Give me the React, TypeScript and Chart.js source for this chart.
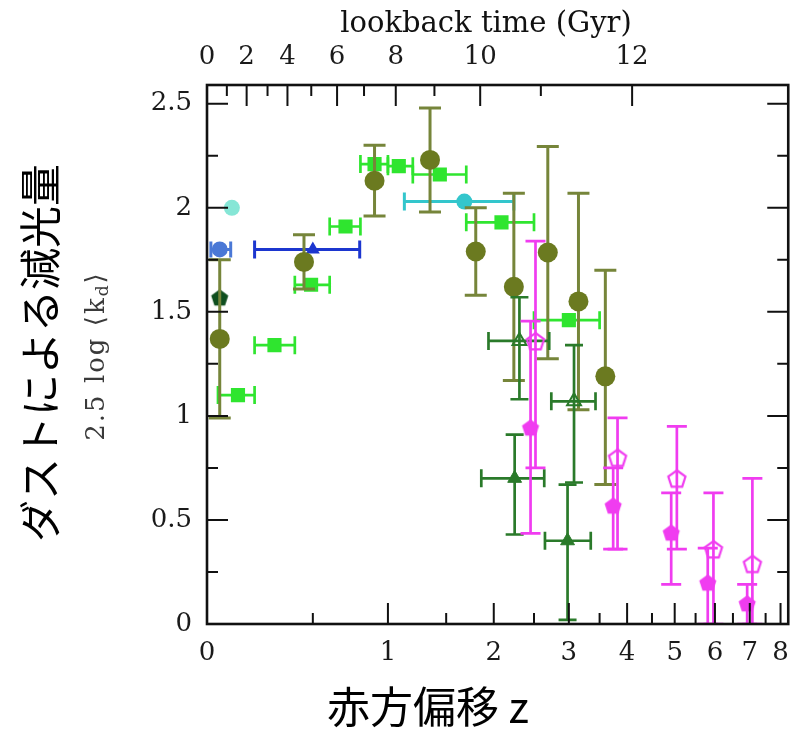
import React, { useEffect, useRef } from 'react';
import { Chart, registerables } from 'chart.js';

Chart.register(...registerables);

// ---------- axes / ticks ----------
const X_MAX_1PZ = 9.27; // right edge of plot in (1+z)
const Y_MAX = 2.59;
const Z_TICKS = [0, 1, 2, 3, 4, 5, 6, 7, 8];
const Z_MINOR = [0.5, 1.5, 2.5, 3.5, 4.5, 5.5, 6.5, 7.5];
const Y_TICKS = [0, 0.5, 1, 1.5, 2, 2.5];
const Y_MINOR = [0.25, 0.75, 1.25, 1.75, 2.25];
const LOOKBACK_LABELS = ['0', '2', '4', '6', '8', '10', '12'];
const LOOKBACK_Z = [0, 0.164, 0.361, 0.646, 1.061, 1.848, 4.097];
const LOOKBACK_MINOR_Z = [0.079, 0.261, 0.491, 0.825, 1.39, 2.593];

// ---------- data ----------
// olive filled circles
const OLIVE_Z = [0.05, 0.45, 0.9, 1.35, 1.8, 2.24, 2.69, 3.15, 3.6];
const OLIVE_V = [1.37, 1.74, 2.13, 2.23, 1.79, 1.62, 1.785, 1.55, 1.19];
const OLIVE_EUP = [0.38, 0.13, 0.17, 0.25, 0.21, 0.45, 0.51, 0.52, 0.51];
const OLIVE_EDN = [0.38, 0.13, 0.17, 0.25, 0.21, 0.45, 0.51, 0.52, 0.52];

// bright green squares (redshift bins)
const LIME_Z = [0.126, 0.295, 0.49, 0.7, 0.9, 1.085, 1.44, 2.09, 3.0];
const LIME_V = [1.1, 1.34, 1.63, 1.91, 2.21, 2.2, 2.16, 1.93, 1.46];
const LIME_ZLO = [0.043, 0.2, 0.4, 0.6, 0.8, 1.0, 1.2, 1.7, 2.5];
const LIME_ZHI = [0.2, 0.4, 0.6, 0.8, 1.0, 1.2, 1.7, 2.5, 3.5];

// dark green filled triangles
const DGF_Z = [2.25, 2.98];
const DGF_V = [0.7, 0.4];
const DGF_ZLO = [1.86, 2.65];
const DGF_ZHI = [2.64, 3.35];
const DGF_EUP = [0.21, 0.27];
const DGF_EDN = [0.27, 0.38];

// dark green open triangles
const DGO_Z = [2.31, 3.08];
const DGO_V = [1.36, 1.07];
const DGO_ZLO = [1.94, 2.74];
const DGO_ZHI = [2.71, 3.43];
const DGO_EUP = [0.21, 0.27];
const DGO_EDN = [0.28, 0.39];

// magenta filled pentagons
const MGF_Z = [2.454, 3.74, 4.92, 5.81, 6.92];
const MGF_V = [0.945, 0.57, 0.44, 0.2, 0.1];
const MGF_EUP = [0.51, 0.18, 0.19, 0.165, 0.09];
const MGF_EDN = [0.51, 0.21, 0.25, 0.2, 0.1];

// magenta open pentagons
const MGO_Z = [2.52, 3.82, 5.05, 5.96, 7.08];
const MGO_V = [1.36, 0.8, 0.7, 0.36, 0.29];
const MGO_EUP = [0.48, 0.19, 0.25, 0.27, 0.41];
const MGO_EDN = [0.61, 0.44, 0.34, 0.36, 0.29];

// single local / individual points
const BLUE_TRI_Z = [0.5];
const BLUE_TRI_V = [1.8];
const BLUE_TRI_ZLO = [0.2];
const BLUE_TRI_ZHI = [0.795];

const CYAN_Z = [1.68];
const CYAN_V = [2.03];
const CYAN_ZLO = [1.13];
const CYAN_ZHI = [2.24];

const BLUE_CIRC_Z = [0.05];
const BLUE_CIRC_V = [1.8];
const BLUE_CIRC_ZLO = [0.015];
const BLUE_CIRC_ZHI = [0.095];

const AQUA_Z = [0.1];
const AQUA_V = [2.0];

const DKPENT_Z = [0.05];
const DKPENT_V = [1.57];

// ---------- helpers ----------
type Pt = { x: number; y: number; xLo?: number; xHi?: number; yLo?: number; yHi?: number };
function pts(z: number[], v: number[], o: { zLo?: number[]; zHi?: number[]; up?: number[]; dn?: number[] } = {}): Pt[] {
  return z.map((zz, i) => {
    const p: Pt = { x: 1 + zz, y: v[i] };
    if (o.zLo && o.zHi) {
      p.xLo = 1 + o.zLo[i];
      p.xHi = 1 + o.zHi[i];
    }
    if (o.up && o.dn) {
      p.yHi = v[i] + o.up[i];
      p.yLo = v[i] - o.dn[i];
    }
    return p;
  });
}

function makePentagon(color: string, filled: boolean, r: number): HTMLCanvasElement {
  const size = Math.ceil(r * 2 + 6);
  const c = document.createElement('canvas');
  c.width = size;
  c.height = size;
  const g = c.getContext('2d')!;
  g.beginPath();
  for (let i = 0; i < 5; i++) {
    const a = -Math.PI / 2 + (i * 2 * Math.PI) / 5;
    const px = size / 2 + r * Math.cos(a);
    const py = size / 2 + 1 + r * Math.sin(a);
    if (i === 0) g.moveTo(px, py);
    else g.lineTo(px, py);
  }
  g.closePath();
  if (filled) {
    g.fillStyle = color;
    g.fill();
  } else {
    g.strokeStyle = color;
    g.lineWidth = 2.2;
    g.stroke();
  }
  return c;
}

const errorBarsPlugin = {
  id: 'errorBars',
  beforeDatasetDraw(chart: any, args: any) {
    const ds = chart.data.datasets[args.index];
    const xs = chart.scales.x;
    const ys = chart.scales.y;
    const ctx = chart.ctx as CanvasRenderingContext2D;
    const area = chart.chartArea;
    ctx.save();
    ctx.beginPath();
    ctx.rect(area.left, area.top, area.right - area.left, area.bottom - area.top);
    ctx.clip();
    ctx.strokeStyle = ds.errColor || ds.borderColor;
    ctx.lineWidth = ds.errWidth || 2.7;
    const cap = ds.capHalf || 9;
    for (const p of ds.data as Pt[]) {
      const px = xs.getPixelForValue(p.x);
      const py = ys.getPixelForValue(p.y);
      if (p.xLo !== undefined && p.xHi !== undefined) {
        const l = xs.getPixelForValue(p.xLo);
        const h = xs.getPixelForValue(p.xHi);
        ctx.beginPath();
        ctx.moveTo(l, py);
        ctx.lineTo(h, py);
        ctx.moveTo(l, py - cap);
        ctx.lineTo(l, py + cap);
        ctx.moveTo(h, py - cap);
        ctx.lineTo(h, py + cap);
        ctx.stroke();
      }
      if (p.yLo !== undefined && p.yHi !== undefined) {
        const lo = ys.getPixelForValue(p.yLo);
        const hi = ys.getPixelForValue(p.yHi);
        ctx.beginPath();
        ctx.moveTo(px, lo);
        ctx.lineTo(px, hi);
        ctx.moveTo(px - cap, lo);
        ctx.lineTo(px + cap, lo);
        ctx.moveTo(px - cap, hi);
        ctx.lineTo(px + cap, hi);
        ctx.stroke();
      }
    }
    ctx.restore();
  },
};

const framePlugin = {
  id: 'frameTicks',
  afterDatasetsDraw(chart: any) {
    const ctx = chart.ctx as CanvasRenderingContext2D;
    const { left, right, top, bottom } = chart.chartArea;
    const xs = chart.scales.x;
    const ys = chart.scales.y;
    const MAJ = 21;
    const MIN = 11;
    ctx.save();
    ctx.strokeStyle = '#111';
    ctx.lineWidth = 2;
    ctx.beginPath();
    // bottom redshift ticks
    for (const z of Z_TICKS) {
      if (z === 0) continue;
      const px = xs.getPixelForValue(1 + z);
      ctx.moveTo(px, bottom);
      ctx.lineTo(px, bottom - MAJ);
    }
    for (const z of Z_MINOR) {
      const px = xs.getPixelForValue(1 + z);
      ctx.moveTo(px, bottom);
      ctx.lineTo(px, bottom - MIN);
    }
    // top lookback ticks
    for (const z of LOOKBACK_Z) {
      if (z === 0) continue;
      const px = xs.getPixelForValue(1 + z);
      ctx.moveTo(px, top);
      ctx.lineTo(px, top + MAJ);
    }
    for (const z of LOOKBACK_MINOR_Z) {
      const px = xs.getPixelForValue(1 + z);
      ctx.moveTo(px, top);
      ctx.lineTo(px, top + MIN);
    }
    // left / right y ticks
    for (const v of Y_TICKS) {
      if (v === 0) continue;
      const py = ys.getPixelForValue(v);
      ctx.moveTo(left, py);
      ctx.lineTo(left + MAJ, py);
      ctx.moveTo(right, py);
      ctx.lineTo(right - MAJ, py);
    }
    for (const v of Y_MINOR) {
      const py = ys.getPixelForValue(v);
      ctx.moveTo(left, py);
      ctx.lineTo(left + MIN, py);
      ctx.moveTo(right, py);
      ctx.lineTo(right - MIN, py);
    }
    ctx.stroke();
    ctx.lineWidth = 2.6;
    ctx.strokeRect(left, top, right - left, bottom - top);
    ctx.restore();
  },
  afterDraw(chart: any) {
    const ctx = chart.ctx as CanvasRenderingContext2D;
    ctx.save();
    ctx.fillStyle = '#111';
    // top title
    ctx.font = '29px "DejaVu Serif"';
    ctx.textAlign = 'center';
    ctx.textBaseline = 'alphabetic';
    ctx.fillText('lookback time (Gyr)', 486, 32);
    // bottom title
    ctx.fillStyle = '#000';
    ctx.font = '43px "Noto Sans CJK JP"';
    ctx.textBaseline = 'middle';
    ctx.fillText('赤方偏移 z', 428, 707);
    // big vertical title
    ctx.save();
    ctx.translate(40, 353);
    ctx.rotate(-Math.PI / 2);
    ctx.font = '42px "Noto Sans CJK JP"';
    ctx.textAlign = 'center';
    ctx.textBaseline = 'middle';
    ctx.fillText('ダストによる減光量', 0, 0);
    ctx.restore();
    // small vertical label 2.5 log <k_d>
    ctx.save();
    ctx.translate(97, 356);
    ctx.rotate(-Math.PI / 2);
    ctx.fillStyle = '#3a3a3a';
    ctx.textBaseline = 'middle';
    ctx.textAlign = 'left';
    try {
      (ctx as any).letterSpacing = '2px';
    } catch (e) {
      /* ignore */
    }
    const mainF = '26px "DejaVu Serif", "DejaVu Sans"';
    const subF = '17px "DejaVu Serif", "DejaVu Sans"';
    const parts = [
      { t: '2.5 log ⟨k', f: mainF, dy: 0 },
      { t: 'd', f: subF, dy: 7 },
      { t: '⟩', f: mainF, dy: 0 },
    ];
    let total = 0;
    for (const p of parts) {
      ctx.font = p.f;
      total += ctx.measureText(p.t).width;
    }
    let cx = -total / 2;
    for (const p of parts) {
      ctx.font = p.f;
      ctx.fillText(p.t, cx, p.dy);
      cx += ctx.measureText(p.t).width;
    }
    ctx.restore();
    ctx.restore();
  },
};

const OLIVE = '#6b7a20';
const LIME = '#2fe52f';
const DKGREEN = '#2a7a2a';
const MAGENTA = '#f03cf0';

export default function App() {
  const ref = useRef<HTMLCanvasElement>(null);
  useEffect(() => {
    if (!ref.current) return;
    const pentF = makePentagon(MAGENTA, true, 9);
    const pentO = makePentagon(MAGENTA, false, 9);
    const pentDk = makePentagon('#0f4f1f', true, 9);
    const tickFont = { family: '"DejaVu Serif"', size: 26 };
    const chart = new Chart(ref.current, {
      type: 'scatter',
      data: {
        datasets: [
          {
            label: 'magenta filled',
            data: pts(MGF_Z, MGF_V, { up: MGF_EUP, dn: MGF_EDN }),
            pointStyle: pentF as any,
            borderColor: MAGENTA,
            backgroundColor: MAGENTA,
            capHalf: 10,
          } as any,
          {
            label: 'magenta open',
            data: pts(MGO_Z, MGO_V, { up: MGO_EUP, dn: MGO_EDN }),
            pointStyle: pentO as any,
            borderColor: MAGENTA,
            backgroundColor: MAGENTA,
            capHalf: 10,
          } as any,
          {
            label: 'dark green filled tri',
            data: pts(DGF_Z, DGF_V, { zLo: DGF_ZLO, zHi: DGF_ZHI, up: DGF_EUP, dn: DGF_EDN }),
            pointStyle: 'triangle',
            pointRadius: 8,
            borderColor: DKGREEN,
            backgroundColor: DKGREEN,
            capHalf: 9,
          } as any,
          {
            label: 'dark green open tri',
            data: pts(DGO_Z, DGO_V, { zLo: DGO_ZLO, zHi: DGO_ZHI, up: DGO_EUP, dn: DGO_EDN }),
            pointStyle: 'triangle',
            pointRadius: 8,
            borderWidth: 2,
            borderColor: DKGREEN,
            backgroundColor: 'rgba(255,255,255,0)',
            capHalf: 9,
          } as any,
          {
            label: 'olive',
            data: pts(OLIVE_Z, OLIVE_V, { up: OLIVE_EUP, dn: OLIVE_EDN }),
            pointStyle: 'circle',
            pointRadius: 10,
            borderWidth: 0,
            borderColor: OLIVE,
            backgroundColor: OLIVE,
            errColor: '#76853a',
            errWidth: 3,
            capHalf: 11,
          } as any,
          {
            label: 'lime',
            data: pts(LIME_Z, LIME_V, { zLo: LIME_ZLO, zHi: LIME_ZHI }),
            pointStyle: 'rect',
            pointRadius: 10,
            borderWidth: 0,
            borderColor: LIME,
            backgroundColor: LIME,
            capHalf: 9,
          } as any,
          {
            label: 'cyan',
            data: pts(CYAN_Z, CYAN_V, { zLo: CYAN_ZLO, zHi: CYAN_ZHI }),
            pointStyle: 'circle',
            pointRadius: 8,
            borderWidth: 0,
            borderColor: '#33c6cc',
            backgroundColor: '#33c6cc',
            errWidth: 3,
            capHalf: 9,
          } as any,
          {
            label: 'blue tri',
            data: pts(BLUE_TRI_Z, BLUE_TRI_V, { zLo: BLUE_TRI_ZLO, zHi: BLUE_TRI_ZHI }),
            pointStyle: 'triangle',
            pointRadius: 8,
            borderWidth: 0,
            borderColor: '#1c36cf',
            backgroundColor: '#1c36cf',
            errWidth: 3,
            capHalf: 9,
          } as any,
          {
            label: 'blue circle',
            data: pts(BLUE_CIRC_Z, BLUE_CIRC_V, { zLo: BLUE_CIRC_ZLO, zHi: BLUE_CIRC_ZHI }),
            pointStyle: 'circle',
            pointRadius: 8,
            borderWidth: 0,
            borderColor: '#4a78d6',
            backgroundColor: '#4a78d6',
            errWidth: 3,
            capHalf: 8,
          } as any,
          {
            label: 'aqua',
            data: pts(AQUA_Z, AQUA_V),
            pointStyle: 'circle',
            pointRadius: 8,
            borderWidth: 0,
            borderColor: '#86e6d6',
            backgroundColor: '#86e6d6',
          } as any,
          {
            label: 'dark pentagon',
            data: pts(DKPENT_Z, DKPENT_V),
            pointStyle: pentDk as any,
            borderColor: '#0f4f1f',
            backgroundColor: '#0f4f1f',
          } as any,
        ],
      },
      options: {
        responsive: false,
        animation: false,
        layout: { padding: { left: 0, right: 11, top: 0, bottom: 0 } },
        plugins: { legend: { display: false }, tooltip: { enabled: false } },
        scales: {
          x: {
            type: 'logarithmic',
            position: 'bottom',
            min: 1,
            max: X_MAX_1PZ,
            bounds: 'data',
            grid: { display: false, drawTicks: false },
            border: { display: false },
            ticks: {
              autoSkip: false,
              maxRotation: 0,
              padding: 14,
              font: tickFont,
              color: '#1a1a1a',
              callback: (v: any) => String(Math.round(Number(v) - 1)),
            },
            afterBuildTicks: (s: any) => {
              s.ticks = Z_TICKS.map((z) => ({ value: 1 + z }));
            },
            afterFit: (s: any) => {
              s.height = 109;
            },
          },
          x2: {
            type: 'logarithmic',
            position: 'top',
            axis: 'x',
            min: 1,
            max: X_MAX_1PZ,
            bounds: 'data',
            grid: { display: false, drawTicks: false },
            border: { display: false },
            ticks: {
              autoSkip: false,
              maxRotation: 0,
              padding: 12,
              font: tickFont,
              color: '#1a1a1a',
              callback: (_v: any, i: number) => LOOKBACK_LABELS[i],
            },
            afterBuildTicks: (s: any) => {
              s.ticks = LOOKBACK_Z.map((z) => ({ value: 1 + z }));
            },
            afterFit: (s: any) => {
              s.height = 85;
            },
          },
          y: {
            type: 'linear',
            position: 'left',
            min: 0,
            max: Y_MAX,
            grid: { display: false, drawTicks: false },
            border: { display: false },
            ticks: {
              autoSkip: false,
              padding: 15,
              font: tickFont,
              color: '#1a1a1a',
              callback: (v: any) => String(v),
            },
            afterBuildTicks: (s: any) => {
              s.ticks = Y_TICKS.map((v) => ({ value: v }));
            },
            afterFit: (s: any) => {
              s.width = 207;
            },
          },
        },
      } as any,
      plugins: [errorBarsPlugin, framePlugin],
    });
    return () => chart.destroy();
  }, []);
  return (
    <div style={{ position: 'absolute', left: 0, top: 0, width: 803, height: 733, background: '#fff' }}>
      <canvas ref={ref} width={803} height={733} style={{ display: 'block' }} />
    </div>
  );
}
